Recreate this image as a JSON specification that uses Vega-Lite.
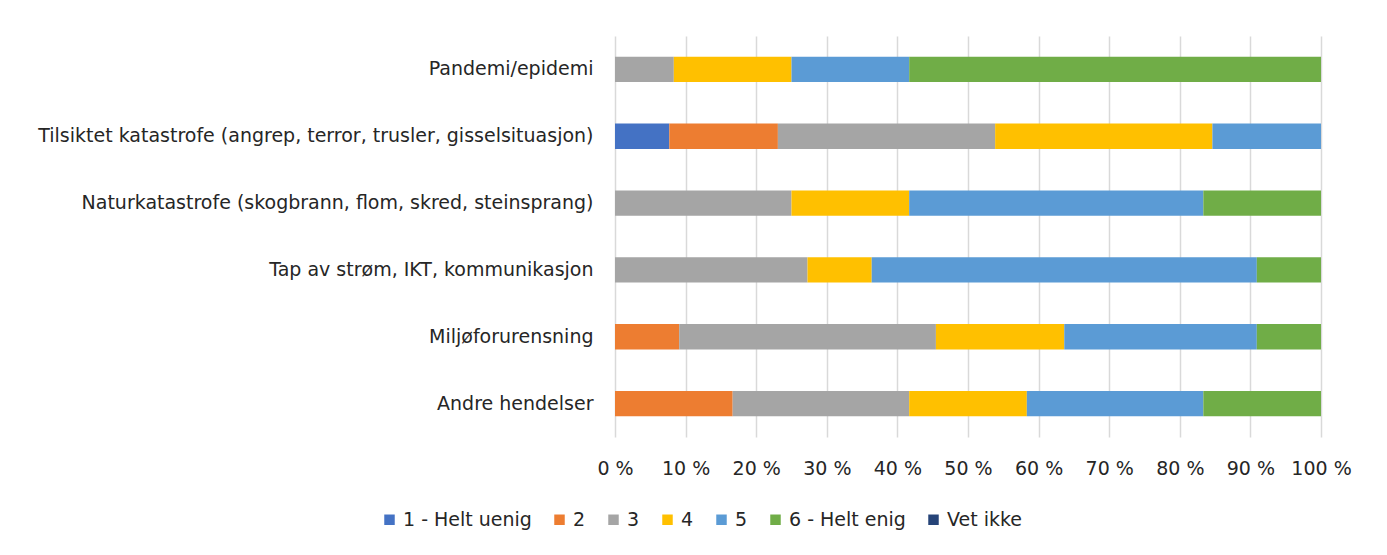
{
  "$schema": "https://vega.github.io/schema/vega-lite/v6.json",
  "autosize": "none",
  "width": 706,
  "height": 401,
  "padding": {"left": 615, "top": 36, "right": 66, "bottom": 118},
  "background": "white",
  "config": {
    "font": "DejaVu Sans",
    "view": {"stroke": null}
  },
  "data": {
    "values": [
      {"kategori": "Pandemi/epidemi", "svar": "3", "andel": 8.33},
      {"kategori": "Pandemi/epidemi", "svar": "4", "andel": 16.67},
      {"kategori": "Pandemi/epidemi", "svar": "5", "andel": 16.67},
      {"kategori": "Pandemi/epidemi", "svar": "6 - Helt enig", "andel": 58.33},
      {"kategori": "Tilsiktet katastrofe (angrep, terror, trusler, gisselsituasjon)", "svar": "1 - Helt uenig", "andel": 7.69},
      {"kategori": "Tilsiktet katastrofe (angrep, terror, trusler, gisselsituasjon)", "svar": "2", "andel": 15.38},
      {"kategori": "Tilsiktet katastrofe (angrep, terror, trusler, gisselsituasjon)", "svar": "3", "andel": 30.77},
      {"kategori": "Tilsiktet katastrofe (angrep, terror, trusler, gisselsituasjon)", "svar": "4", "andel": 30.77},
      {"kategori": "Tilsiktet katastrofe (angrep, terror, trusler, gisselsituasjon)", "svar": "5", "andel": 15.38},
      {"kategori": "Naturkatastrofe (skogbrann, flom, skred, steinsprang)", "svar": "3", "andel": 25.0},
      {"kategori": "Naturkatastrofe (skogbrann, flom, skred, steinsprang)", "svar": "4", "andel": 16.67},
      {"kategori": "Naturkatastrofe (skogbrann, flom, skred, steinsprang)", "svar": "5", "andel": 41.67},
      {"kategori": "Naturkatastrofe (skogbrann, flom, skred, steinsprang)", "svar": "6 - Helt enig", "andel": 16.67},
      {"kategori": "Tap av strøm, IKT, kommunikasjon", "svar": "3", "andel": 27.27},
      {"kategori": "Tap av strøm, IKT, kommunikasjon", "svar": "4", "andel": 9.09},
      {"kategori": "Tap av strøm, IKT, kommunikasjon", "svar": "5", "andel": 54.55},
      {"kategori": "Tap av strøm, IKT, kommunikasjon", "svar": "6 - Helt enig", "andel": 9.09},
      {"kategori": "Miljøforurensning", "svar": "2", "andel": 9.09},
      {"kategori": "Miljøforurensning", "svar": "3", "andel": 36.36},
      {"kategori": "Miljøforurensning", "svar": "4", "andel": 18.18},
      {"kategori": "Miljøforurensning", "svar": "5", "andel": 27.27},
      {"kategori": "Miljøforurensning", "svar": "6 - Helt enig", "andel": 9.09},
      {"kategori": "Andre hendelser", "svar": "2", "andel": 16.67},
      {"kategori": "Andre hendelser", "svar": "3", "andel": 25.0},
      {"kategori": "Andre hendelser", "svar": "4", "andel": 16.67},
      {"kategori": "Andre hendelser", "svar": "5", "andel": 25.0},
      {"kategori": "Andre hendelser", "svar": "6 - Helt enig", "andel": 16.67}
    ]
  },
  "mark": {"type": "bar"},
  "encoding": {
    "y": {
      "field": "kategori",
      "type": "nominal",
      "sort": null,
      "scale": {"paddingInner": 0.62, "paddingOuter": 0.31},
      "axis": {
        "title": null,
        "domain": false,
        "ticks": false,
        "labelFontSize": 19,
        "labelColor": "#262626",
        "labelPadding": 22,
        "labelLimit": 700
      }
    },
    "x": {
      "field": "andel",
      "type": "quantitative",
      "stack": "normalize",
      "scale": {"domain": [0, 1], "nice": false},
      "axis": {
        "title": null,
        "values": [0, 0.1, 0.2, 0.3, 0.4, 0.5, 0.6, 0.7, 0.8, 0.9, 1],
        "labelExpr": "round(datum.value * 100) + ' %'",
        "labelOverlap": false,
        "labelFlush": false,
        "labelBound": false,
        "domain": false,
        "ticks": false,
        "grid": true,
        "gridColor": "#d9d9d9",
        "gridWidth": 1.5,
        "labelFontSize": 19,
        "labelColor": "#262626",
        "labelPadding": 22
      }
    },
    "color": {
      "field": "svar",
      "type": "nominal",
      "scale": {
        "domain": ["1 - Helt uenig", "2", "3", "4", "5", "6 - Helt enig", "Vet ikke"],
        "range": ["#4472C4", "#ED7D31", "#A5A5A5", "#FFC000", "#5B9BD5", "#70AD47", "#264478"]
      },
      "legend": {
        "title": null,
        "orient": "none",
        "legendX": -235,
        "legendY": 474,
        "direction": "horizontal",
        "symbolType": "square",
        "symbolSize": 110,
        "symbolStrokeWidth": 0,
        "labelFontSize": 19,
        "labelColor": "#262626",
        "columnPadding": 18,
        "labelOffset": 4
      }
    },
    "order": {"field": "svar", "type": "nominal", "sort": "ascending"}
  }
}
